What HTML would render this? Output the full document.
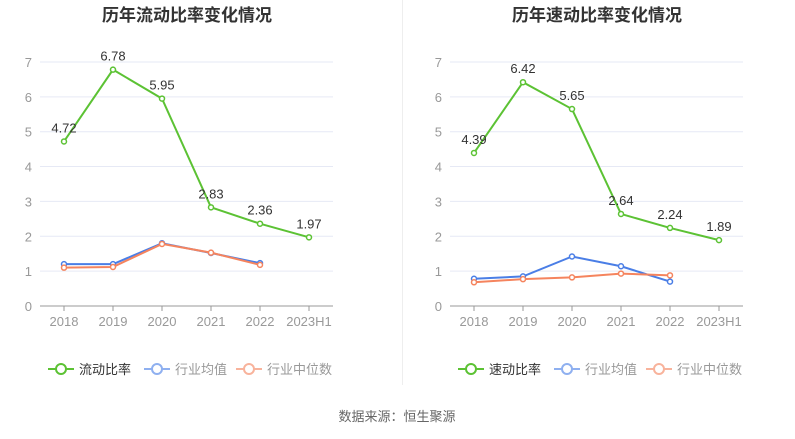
<!DOCTYPE html>
<html><head><meta charset="utf-8"><style>
html,body{margin:0;padding:0;background:#fff;width:795px;height:439px;overflow:hidden}
svg{display:block;font-family:"Liberation Sans","Noto Sans CJK SC",sans-serif}
</style></head><body>
<svg id="s" width="795" height="439" xmlns="http://www.w3.org/2000/svg">
<line x1="402.5" y1="0" x2="402.5" y2="385" stroke="#eee"/>
<text x="397" y="421" text-anchor="middle" font-size="13" fill="#666">数据来源：恒生聚源</text>
</svg>
<script>
const s=document.getElementById('s');let h='';
const Y=v=>306-v*34.86;
function chart(x0,title,name,main,avg,med){
  const xs=[0,1,2,3,4,5].map(i=>x0+24+i*49);
  h+=`<text x="${x0+147}" y="21" text-anchor="middle" font-size="17" font-weight="bold" fill="#333">${title}</text>`;
  for(let v=0;v<=7;v++){const y=Y(v);
    if(v>0)h+=`<line x1="${x0}" x2="${x0+293}" y1="${y}" y2="${y}" stroke="#e6e9f5"/>`;
    h+=`<text x="${x0-8}" y="${y+5}" text-anchor="end" font-size="13" fill="#999">${v}</text>`;}
  h+=`<line x1="${x0}" x2="${x0+293}" y1="306" y2="306" stroke="#999"/>`;
  ['2018','2019','2020','2021','2022','2023H1'].forEach((l,i)=>{
    h+=`<line x1="${xs[i]}" x2="${xs[i]}" y1="306" y2="311" stroke="#999"/>`;
    h+=`<text x="${xs[i]}" y="326" text-anchor="middle" font-size="13" fill="#999">${l}</text>`;});
  function series(d,c,lbl){
    h+=`<polyline fill="none" stroke="${c}" stroke-width="2" points="${d.map((v,i)=>xs[i]+','+Y(v)).join(' ')}"/>`;
    d.forEach((v,i)=>{h+=`<circle cx="${xs[i]}" cy="${Y(v)}" r="2.5" fill="#fff" stroke="${c}" stroke-width="1.5"/>`;
      if(lbl)h+=`<text x="${xs[i]}" y="${Y(v)-9}" text-anchor="middle" font-size="13" fill="#333">${v.toFixed(2)}</text>`;});
  }
  series(avg,'#4a7ee6');series(med,'#f5845e');series(main,'#5cc234',true);
  const leg=[[name,'#5cc234','#333'],['行业均值','#8fb0f0','#999'],['行业中位数','#f8b39c','#999']];
  let lx=[x0+8,x0+104,x0+196];
  leg.forEach((g,i)=>{const x=lx[i];
    h+=`<line x1="${x}" x2="${x+26}" y1="369" y2="369" stroke="${g[1]}" stroke-width="2"/><circle cx="${x+13}" cy="369" r="5" fill="#fff" stroke="${g[1]}" stroke-width="2"/>`;
    h+=`<text x="${x+31}" y="374" font-size="13" fill="${g[2]}">${g[0]}</text>`;});
}
chart(40,'历年流动比率变化情况','流动比率',[4.72,6.78,5.95,2.83,2.36,1.97],[1.2,1.2,1.8,1.52,1.23],[1.1,1.12,1.78,1.53,1.18]);
chart(450,'历年速动比率变化情况','速动比率',[4.39,6.42,5.65,2.64,2.24,1.89],[0.78,0.85,1.42,1.14,0.7],[0.68,0.77,0.82,0.93,0.88]);
s.insertAdjacentHTML('beforeend',h);
</script>
</body></html>
